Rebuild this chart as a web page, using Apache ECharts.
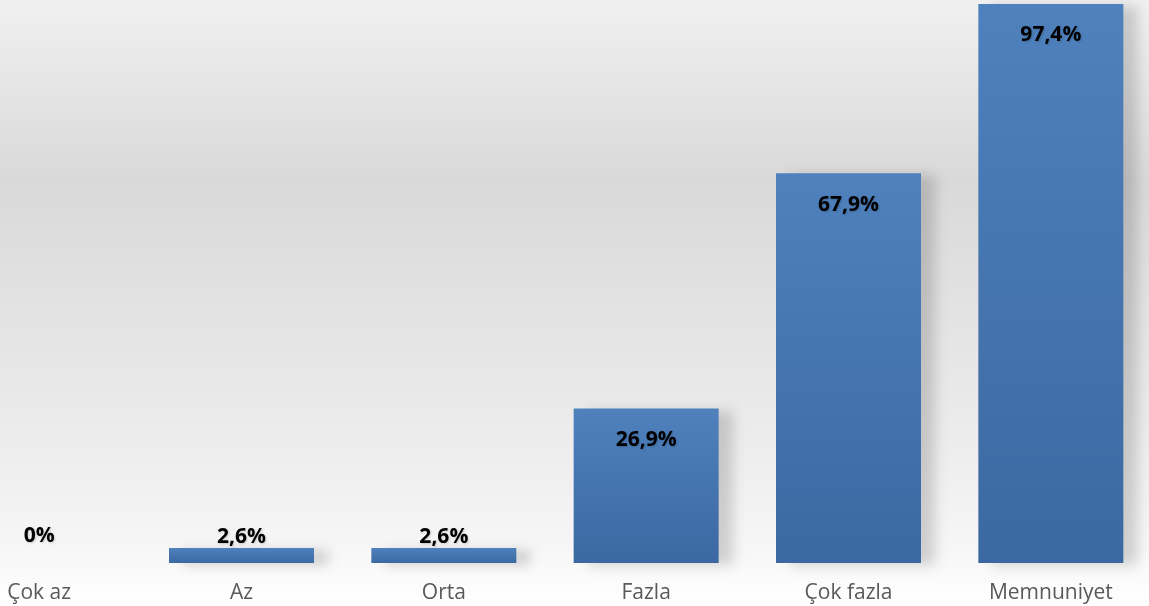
<!DOCTYPE html>
<html>
<head>
<meta charset="utf-8">
<script src="https://cdn.jsdelivr.net/npm/echarts@6/dist/echarts.min.js"></script>
<style>
html,body{margin:0;padding:0;}
#chart{width:1149px;height:606px;}
</style>
</head>
<body>
<div id="chart"></div>
<script>
// kategoriler ve yüzdeler
const categories = ["Çok az", "Az", "Orta", "Fazla", "Çok fazla", "Memnuniyet"];
const values = [0, 2.6, 2.6, 26.9, 67.9, 97.4];
const valueLabels = ["0%", "2,6%", "2,6%", "26,9%", "67,9%", "97,4%"];

const myChart = echarts.init(document.getElementById('chart'));

const barData = values.map(function (v, i) {
    let small = v < 10;
    return {
        value: v,
        label: {
            position: small ? 'top' : 'insideTop',
            distance: v === 0 ? 16 : (small ? 1 : 21)
        }
    };
});

const option = {
    backgroundColor: new echarts.graphic.LinearGradient(0, 0, 0, 1, [
        {offset: 0, color: '#f0f0f0'},
        {offset: 0.3, color: '#d9d9d9'},
        {offset: 0.7, color: '#ebebeb'},
        {offset: 0.9, color: '#f6f6f6'},
        {offset: 1, color: '#ffffff'}
    ]),
    grid: {
        left: -62,
        width: 1214,
        top: -11,
        bottom: 43,
        outerBoundsMode: 'none',
        containLabel: false
    },
    xAxis: {
        type: 'category',
        data: categories,
        axisLine: {show: false},
        axisTick: {show: false},
        axisLabel: {
            color: '#595959',
            fontSize: 21,
            fontFamily: 'Open Sans',
            margin: 20,
            interval: 0
        }
    },
    yAxis: {
        type: 'value',
        min: 0,
        max: 100,
        show: false,
        splitLine: {show: false}
    },
    series: [{
        type: 'bar',
        data: barData,
        barWidth: 145,
        itemStyle: {
            color: new echarts.graphic.LinearGradient(0, 0, 0, 1, [
                {offset: 0, color: '#4f81bd'},
                {offset: 1, color: '#3b68a1'}
            ]),
            shadowColor: 'rgba(0,0,0,0.16)',
            shadowBlur: 12,
            shadowOffsetX: 14,
            shadowOffsetY: 2
        },
        label: {
            show: true,
            formatter: function (p) { return valueLabels[p.dataIndex]; },
            color: '#000000',
            fontWeight: 'bold',
            fontSize: 21,
            fontFamily: 'Open Sans',
            textShadowColor: 'rgba(0,0,0,0.18)',
            textShadowBlur: 2,
            textShadowOffsetX: 1,
            textShadowOffsetY: 1
        }
    }]
};
myChart.setOption(option);
</script>
</body>
</html>
